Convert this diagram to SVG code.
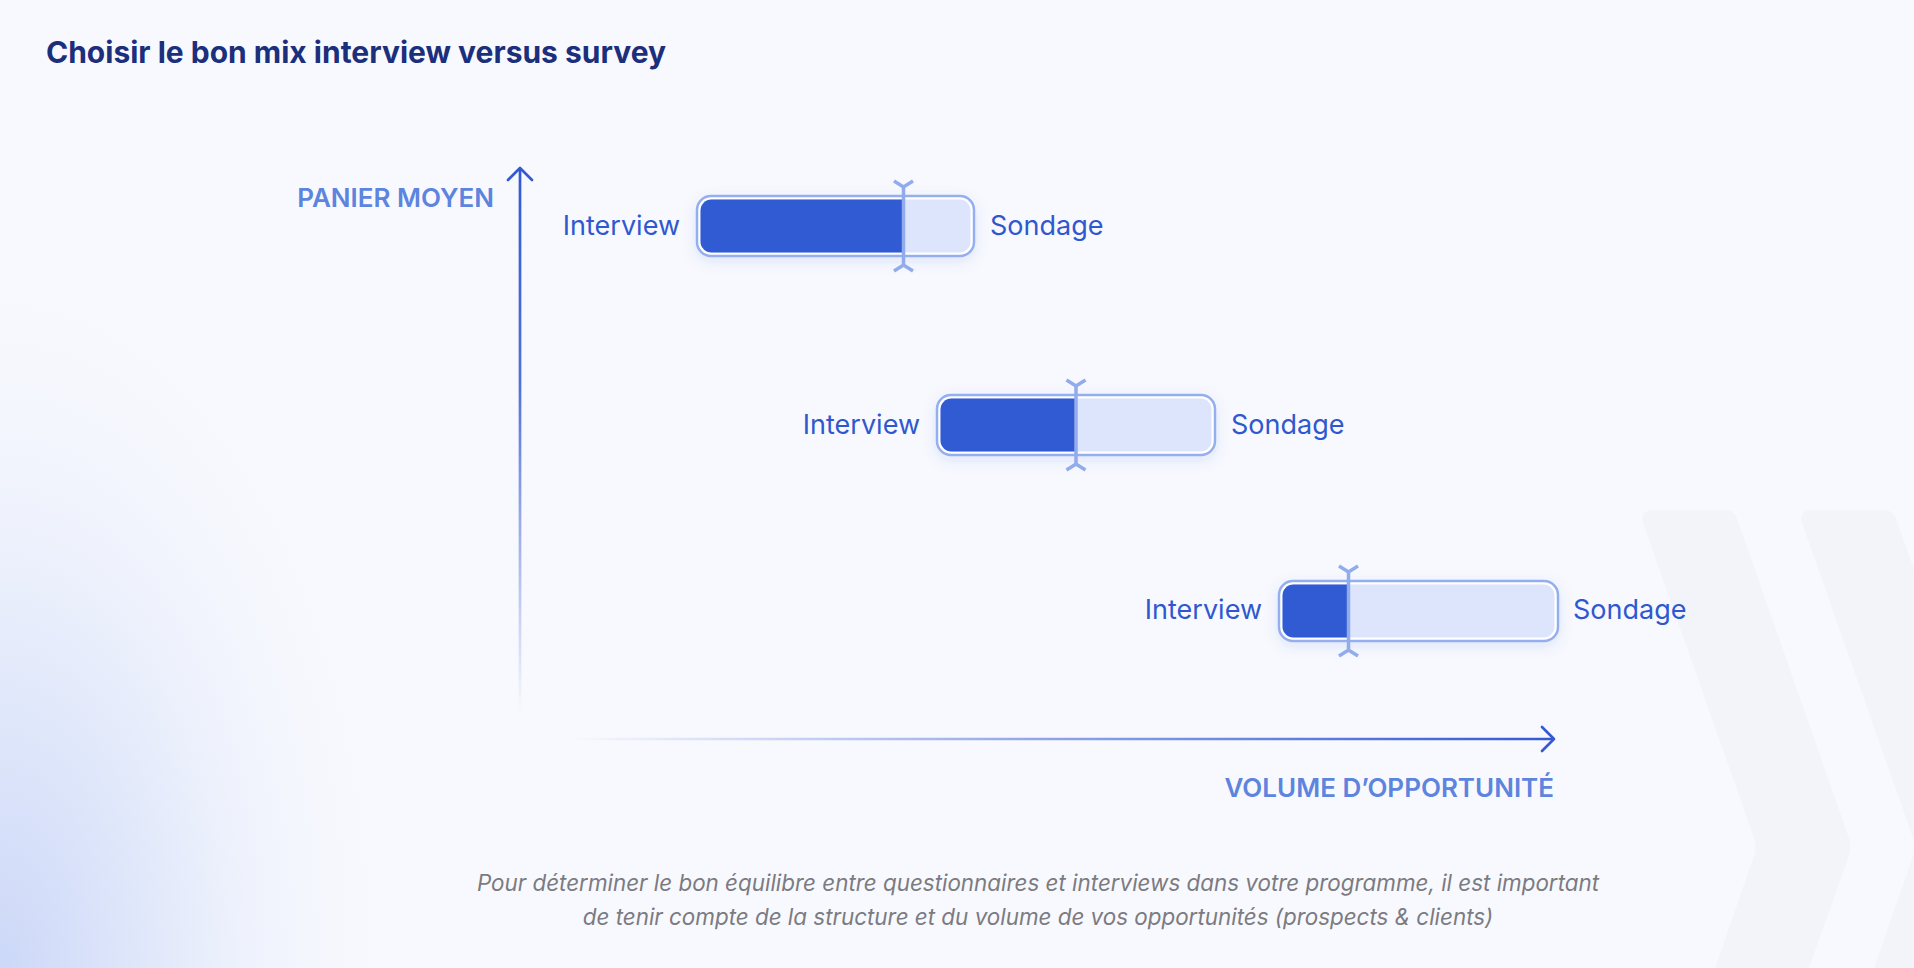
<svg xmlns="http://www.w3.org/2000/svg" width="1914" height="968" viewBox="0 0 1914 968">
<defs>
<radialGradient id="bgGlow" gradientUnits="userSpaceOnUse" cx="0" cy="968" r="420" gradientTransform="translate(0 968) scale(1 1.8) translate(0 -968)">
<stop offset="0" stop-color="#ccd8f8"/>
<stop offset="0.45" stop-color="#e6ecfb"/>
<stop offset="1" stop-color="#f8f9fe" stop-opacity="0"/>
</radialGradient>
<linearGradient id="yAxisGrad" gradientUnits="userSpaceOnUse" x1="0" y1="168" x2="0" y2="712">
<stop offset="0" stop-color="#3459d3" stop-opacity="1"/>
<stop offset="0.4" stop-color="#3459d3" stop-opacity="0.85"/>
<stop offset="1" stop-color="#3459d3" stop-opacity="0"/>
</linearGradient>
<linearGradient id="xAxisGrad" gradientUnits="userSpaceOnUse" x1="570" y1="0" x2="1554" y2="0">
<stop offset="0" stop-color="#3459d3" stop-opacity="0"/>
<stop offset="0.5" stop-color="#3459d3" stop-opacity="0.55"/>
<stop offset="1" stop-color="#3459d3" stop-opacity="1"/>
</linearGradient>
<filter id="barShadow" x="-20%" y="-60%" width="140%" height="220%">
<feDropShadow dx="0" dy="4" stdDeviation="7" flood-color="#3a5bd0" flood-opacity="0.13"/>
</filter>
<style>
.title{font-family:Inter,"Liberation Sans",sans-serif;font-weight:700;font-size:30px;fill:#1b2f7c}
.axis{font-family:Inter,"Liberation Sans",sans-serif;font-weight:600;font-size:26px;fill:#5d84de}
.lbl{font-family:Inter,"Liberation Sans",sans-serif;font-weight:400;font-size:27px;fill:#2f58cf}
.cap{font-family:Inter,"Liberation Sans",sans-serif;font-style:italic;font-size:22.4px;fill:#7b7b82}
.outer{fill:#ffffff;stroke:#94aeef;stroke-width:2.5}
.light{fill:#dce5fc}
.dark{fill:#315bd2}
.mark{fill:none;stroke:#91abed;stroke-width:3.5;stroke-linejoin:miter}
.chev{fill:#f2f4f9}
</style>
<clipPath id="clip1"><rect x="700.5" y="199.5" width="270" height="53" rx="11"/></clipPath>
<clipPath id="clip2"><rect x="940.5" y="398.5" width="271" height="53" rx="11"/></clipPath>
<clipPath id="clip3"><rect x="1282.5" y="584.5" width="272" height="53" rx="11"/></clipPath>
</defs>

<rect x="0" y="0" width="1914" height="968" fill="#f8f9fe"/>
<rect x="0" y="0" width="1914" height="968" fill="url(#bgGlow)"/>

<g id="chevrons">
<path class="chev" d="M1655,510 L1726,510 Q1734,510 1738,521 L1849,838 Q1852,847 1849,856 L1809,968 L1715,968 L1754,856 Q1757,847 1754,838 L1643,523 Q1639,510 1655,510 Z"/>
<path class="chev" d="M1814,510 L1885,510 Q1893,510 1897,521 L2008,838 Q2011,847 2008,856 L1968,968 L1874,968 L1913,856 Q1916,847 1913,838 L1802,523 Q1798,510 1814,510 Z"/>
</g>

<text class="title" x="46" y="63">Choisir le bon mix interview versus survey</text>

<g id="connectors">
<line x1="520" y1="169" x2="520" y2="712" stroke="url(#yAxisGrad)" stroke-width="2.7"/>
<polyline points="508,180 520,168 532,180" fill="none" stroke="#3459d3" stroke-width="2.7" stroke-linecap="round" stroke-linejoin="round"/>
<line x1="570" y1="739" x2="1552" y2="739" stroke="url(#xAxisGrad)" stroke-width="2.7"/>
<polyline points="1542,727 1554,739 1542,751" fill="none" stroke="#3459d3" stroke-width="2.7" stroke-linecap="round" stroke-linejoin="round"/>
</g>

<g id="axis-y-label"><text class="axis" x="494" y="207" text-anchor="end">PANIER MOYEN</text></g>
<g id="axis-x-label"><text class="axis" x="1554" y="797" text-anchor="end">VOLUME D’OPPORTUNITÉ</text></g>

<g id="bar1">
<rect class="outer" x="697" y="196" width="277" height="60" rx="14" filter="url(#barShadow)"/>
<g clip-path="url(#clip1)">
<rect class="light" x="700" y="199" width="272" height="54"/>
<rect class="dark" x="700" y="199" width="204" height="54"/>
</g>
<path class="mark" d="M894,181 L903.5,187 L913,181 M903.5,187 L903.5,265 M894,271 L903.5,265 L913,271"/>
<text class="lbl" x="680" y="235" text-anchor="end">Interview</text>
<text class="lbl" x="990" y="235">Sondage</text>
</g>

<g id="bar2">
<rect class="outer" x="937" y="395" width="278" height="60" rx="14" filter="url(#barShadow)"/>
<g clip-path="url(#clip2)">
<rect class="light" x="940" y="398" width="273" height="54"/>
<rect class="dark" x="940" y="398" width="136" height="54"/>
</g>
<path class="mark" d="M1066.5,380 L1076,386 L1085.5,380 M1076,386 L1076,464 M1066.5,470 L1076,464 L1085.5,470"/>
<text class="lbl" x="920" y="434" text-anchor="end">Interview</text>
<text class="lbl" x="1231" y="434">Sondage</text>
</g>

<g id="bar3">
<rect class="outer" x="1279" y="581" width="279" height="60" rx="14" filter="url(#barShadow)"/>
<g clip-path="url(#clip3)">
<rect class="light" x="1282" y="584" width="274" height="54"/>
<rect class="dark" x="1282" y="584" width="66" height="54"/>
</g>
<path class="mark" d="M1339,566 L1348.5,572 L1358,566 M1348.5,572 L1348.5,650 M1339,656 L1348.5,650 L1358,656"/>
<text class="lbl" x="1262" y="619" text-anchor="end">Interview</text>
<text class="lbl" x="1573" y="619">Sondage</text>
</g>

<g id="caption">
<text class="cap" x="1038" y="891" text-anchor="middle">Pour déterminer le bon équilibre entre questionnaires et interviews dans votre programme, il est important</text>
<text class="cap" x="1038" y="925" text-anchor="middle">de tenir compte de la structure et du volume de vos opportunités (prospects &amp; clients)</text>
</g>
</svg>
